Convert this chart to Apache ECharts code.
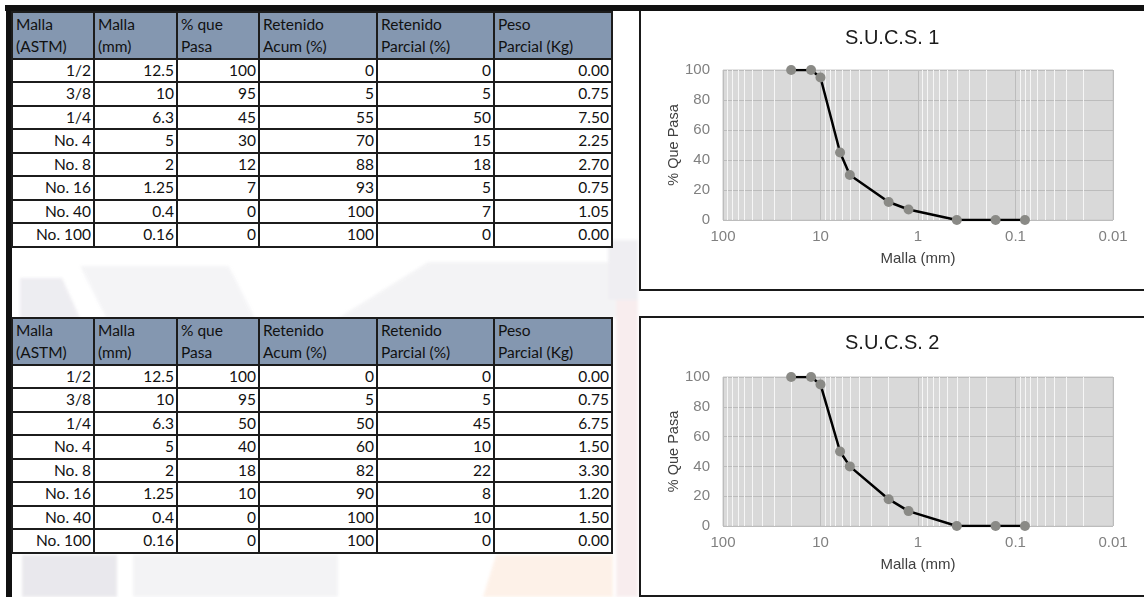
<!DOCTYPE html>
<html>
<head>
<meta charset="utf-8">
<script src="https://cdn.jsdelivr.net/npm/echarts@6/dist/echarts.min.js"></script>
<style>
  html, body { margin: 0; padding: 0; background: #fff; }
  #page { position: relative; width: 1144px; height: 597px; overflow: hidden; background: #fff; }
  .wm { position: absolute; filter: blur(1.5px); opacity: 0.85; }
  .bar { position: absolute; background: #111; }
  .box { position: absolute; background: #fff; border-left: 2px solid #1a1a1a; border-bottom: 2px solid #1a1a1a; box-sizing: border-box; }
  #chart { position: absolute; left: 0; top: 0; width: 1144px; height: 597px; }
  .tbl { position: absolute; left: 0; font-family: Lato, "Open Sans", sans-serif; font-size: 15.5px; color: #111; }
  .cell { position: absolute; box-sizing: border-box; white-space: nowrap; display: flex; align-items: center; line-height: 1; }
  .hd { background: #8497b0; justify-content: flex-start; padding-left: 4px; }
  .dt { background: #fff; justify-content: flex-end; padding-right: 3px; }
  .vl { position: absolute; width: 2px; background: #1c1c1c; }
  .hl { position: absolute; height: 2px; background: #1c1c1c; }
</style>
</head>
<body>
<div id="page">
  <!-- faint background watermark -->
  <div class="wm" style="left:18px;top:0;width:620px;height:597px;">
    <div style="position:absolute;left:2px;top:278px;width:60px;height:40px;background:#ebeaef;clip-path:polygon(0 0,70% 0,100% 100%,0 100%);"></div>
    <div style="position:absolute;left:62px;top:266px;width:175px;height:52px;background:#f3f3f5;clip-path:polygon(0 0,85% 0,100% 100%,15% 100%);"></div>
    <div style="position:absolute;left:320px;top:262px;width:300px;height:56px;background:#f2f2f4;clip-path:polygon(30% 0,100% 0,100% 100%,0 100%);"></div>
    <div style="position:absolute;left:4px;top:555px;width:95px;height:42px;background:#e6e5ea;"></div>
    <div style="position:absolute;left:115px;top:555px;width:205px;height:42px;background:#f2f2f4;"></div>
    <div style="position:absolute;left:465px;top:555px;width:130px;height:42px;background:#fdefe5;clip-path:polygon(10% 0,100% 0,100% 100%,0 100%);"></div>
    <div style="position:absolute;left:598px;top:300px;width:22px;height:297px;background:#f7ebec;"></div>
    <div style="position:absolute;left:590px;top:240px;width:30px;height:60px;background:#edecf0;"></div>
  </div>

  <!-- page frame -->
  <div class="bar" style="left:5px;top:5px;width:1139px;height:6px;"></div>
  <div class="bar" style="left:6px;top:5px;width:6px;height:592px;"></div>

  <!-- chart frames -->
  <div class="box" style="left:639px;top:11px;width:510px;height:280px;"></div>
  <div class="box" style="left:639px;top:316px;width:510px;height:281px;border-top:2px solid #1a1a1a;"></div>

  <div id="chart"></div>
  <div id="t1" class="tbl"></div>
  <div id="t2" class="tbl"></div>
</div>

<script>
// Sieve table columns
const headerTop = ['Malla', 'Malla', '% que', 'Retenido', 'Retenido', 'Peso'];
const headerBottom = ['(ASTM)', '(mm)', 'Pasa', 'Acum (%)', 'Parcial (%)', 'Parcial (Kg)'];
const mallaAstm = ['1/2', '3/8', '1/4', 'No. 4', 'No. 8', 'No. 16', 'No. 40', 'No. 100'];
const mallaMm = ['12.5', '10', '6.3', '5', '2', '1.25', '0.4', '0.16'];

// Sample 1
const pasa1 = [100, 95, 45, 30, 12, 7, 0, 0];
const retAcum1 = [0, 5, 55, 70, 88, 93, 100, 100];
const retParcial1 = [0, 5, 50, 15, 18, 5, 7, 0];
const peso1 = ['0.00', '0.75', '7.50', '2.25', '2.70', '0.75', '1.05', '0.00'];

// Sample 2
const pasa2 = [100, 95, 50, 40, 18, 10, 0, 0];
const retAcum2 = [0, 5, 50, 60, 82, 90, 100, 100];
const retParcial2 = [0, 5, 45, 10, 22, 8, 10, 0];
const peso2 = ['0.00', '0.75', '6.75', '1.50', '3.30', '1.20', '1.50', '0.00'];

// Grading curves (sieve opening in mm vs. % passing)
const curveMm = [20, 12.5, 10, 6.3, 5, 2, 1.25, 0.4, 0.16, 0.08];
const curvePasa1 = [100, 100, 95, 45, 30, 12, 7, 0, 0, 0];
const curvePasa2 = [100, 100, 95, 50, 40, 18, 10, 0, 0, 0];

const chartTitles = ['S.U.C.S. 1', 'S.U.C.S. 2'];
const xTitle = 'Malla (mm)';
const yTitle = '% Que Pasa';

// ---------- tables ----------
const colX = [12, 94, 177, 259, 377, 494, 612];
const rowH = 23.45;

function buildTable(id, top, cols) {
  const el = document.getElementById(id);
  el.style.top = top + 'px';
  let html = '';
  const nRows = 2 + cols[0].length;
  const totalH = nRows * rowH;
  for (let c = 0; c < colX.length - 1; c++) {
    const x = colX[c], w = colX[c + 1] - colX[c];
    html += `<div class="cell hd" style="left:${x}px;top:0;width:${w}px;height:${rowH}px;padding-top:2px;">${headerTop[c]}</div>`;
    html += `<div class="cell hd" style="left:${x}px;top:${rowH}px;width:${w}px;height:${rowH}px;">${headerBottom[c]}</div>`;
    cols[c].forEach((v, r) => {
      html += `<div class="cell dt" style="left:${x}px;top:${(r + 2) * rowH}px;width:${w}px;height:${rowH}px;">${v}</div>`;
    });
  }
  colX.forEach(x => {
    html += `<div class="vl" style="left:${x - 1}px;top:-1px;height:${totalH + 2}px;"></div>`;
  });
  const hLines = [0, 2 * rowH];
  for (let r = 3; r <= nRows; r++) hLines.push(r * rowH);
  hLines.forEach(y => {
    html += `<div class="hl" style="left:${colX[0] - 1}px;top:${y - 1}px;width:${colX[colX.length - 1] - colX[0] + 2}px;"></div>`;
  });
  el.innerHTML = html;
}

buildTable('t1', 12, [mallaAstm, mallaMm, pasa1, retAcum1, retParcial1, peso1]);
buildTable('t2', 318, [mallaAstm, mallaMm, pasa2, retAcum2, retParcial2, peso2]);

// ---------- charts ----------
const chart = echarts.init(document.getElementById('chart'), null, { renderer: 'canvas' });

// minor log gridlines (2..9 within each decade)
const minorLines = [];
[0.01, 0.1, 1, 10].forEach(d => {
  for (let k = 2; k <= 9; k++) minorLines.push({ xAxis: +(d * k).toPrecision(3) });
});

const grids = [
  { left: 723, top: 70, width: 390, height: 150 },
  { left: 723, top: 377, width: 390, height: 149 }
];
const titleTops = [28, 333];
const curves = [curvePasa1, curvePasa2];
const fontSans = 'Liberation Sans, Arial, sans-serif';

const option = {
  animation: false,
  title: chartTitles.map((t, i) => ({
    text: t,
    left: 845,
    top: titleTops[i],
    padding: 0,
    textStyle: { fontFamily: fontSans, fontSize: 20, fontWeight: 'normal', color: '#1a1a1a' }
  })),
  grid: grids.map(g => Object.assign({
    show: true, backgroundColor: '#d9d9d9', borderColor: '#c8c8c8', borderWidth: 1
  }, g)),
  xAxis: grids.map((g, i) => ({
    type: 'log', logBase: 10, gridIndex: i, min: 0.01, max: 100, inverse: true,
    name: xTitle, nameLocation: 'middle', nameGap: 31,
    nameTextStyle: { fontFamily: fontSans, fontSize: 15, color: '#404040' },
    axisLine: { show: false }, axisTick: { show: false },
    axisLabel: { fontFamily: fontSans, fontSize: 15, color: '#808080', margin: 9 },
    splitLine: { show: true, lineStyle: { color: '#bcbcbc', width: 1 } }
  })),
  yAxis: grids.map((g, i) => ({
    type: 'value', gridIndex: i, min: 0, max: 100, interval: 20,
    name: yTitle, nameLocation: 'middle', nameGap: 42,
    nameTextStyle: { fontFamily: fontSans, fontSize: 14.5, color: '#404040' },
    axisLine: { show: false }, axisTick: { show: false },
    axisLabel: { fontFamily: fontSans, fontSize: 15, color: '#808080', margin: 13 },
    splitLine: { show: true, lineStyle: { color: '#bcbcbc', width: 1 } }
  })),
  series: []
};

grids.forEach((g, i) => {
  // white minor gridlines, kept beneath the curve
  option.series.push({
    type: 'line', xAxisIndex: i, yAxisIndex: i, data: [], z: 1, silent: true,
    markLine: {
      z: 1, silent: true, symbol: ['none', 'none'], label: { show: false },
      lineStyle: { color: '#f6f6f6', width: 1, type: 'solid' },
      emphasis: { disabled: true },
      data: minorLines
    }
  });
  option.series.push({
    type: 'line', xAxisIndex: i, yAxisIndex: i, z: 10,
    data: curveMm.map((m, k) => [m, curves[i][k]]),
    symbol: 'circle', symbolSize: 10,
    itemStyle: { color: '#8a8a86' },
    lineStyle: { color: '#000', width: 2.5 }
  });
});

chart.setOption(option);
</script>
</body>
</html>
